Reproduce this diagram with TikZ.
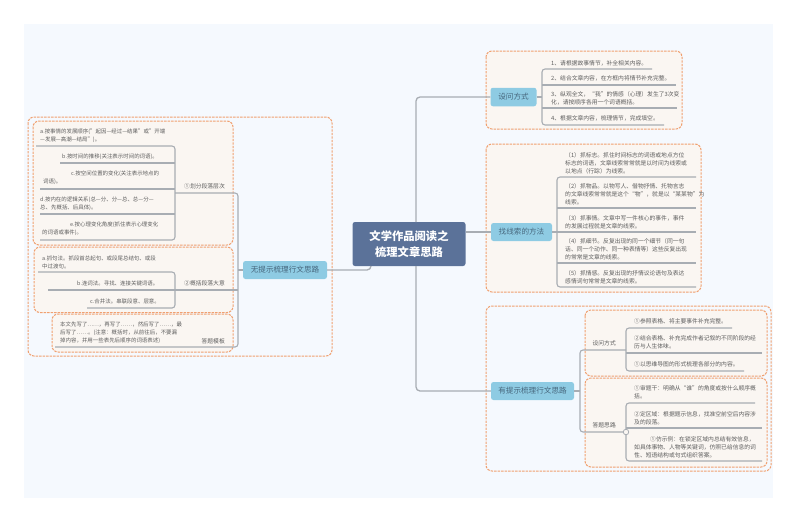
\documentclass[tikz,border=0pt]{standalone}
\usepackage{fontspec}
\setmainfont{Noto Sans CJK SC}
\definecolor{panel}{HTML}{F5F9FE}
\definecolor{dashc}{HTML}{F0A070}
\definecolor{cream}{HTML}{FAF6F2}
\definecolor{linec}{HTML}{A8ADB3}
\definecolor{txtc}{HTML}{5E5E5E}
\definecolor{rootc}{HTML}{5B7299}
\definecolor{topicc}{HTML}{8ECBE3}
\definecolor{topict}{HTML}{47677D}
\tikzset{
  grpouter/.style={draw=dashc,line width=1pt,dash pattern=on 2.4pt off 1.1pt,rounded corners=6pt,fill=panel},
  grpinner/.style={draw=dashc,line width=1pt,dash pattern=on 2.4pt off 1.1pt,rounded corners=6pt,fill=cream},
  conn/.style={draw=linec,line width=1.1pt,rounded corners=3pt},
  mainconn/.style={draw=linec,line width=1.3pt,rounded corners=4pt},
  leaf/.style={inner sep=0pt,anchor=west,align=left,text=txtc,font=\fontsize{5.8}{7.9}\selectfont},
  leafL/.style={leaf,font=\fontsize{5.45}{7.9}\selectfont},
  side/.style={inner sep=0pt,anchor=east,text=txtc,font=\fontsize{5.8}{7.9}\selectfont},
  topic/.style={fill=topicc,rounded corners=2.5pt,inner sep=0pt,text=topict,font=\fontsize{7.6}{9}\selectfont},
  rootbox/.style={fill=rootc,rounded corners=2.5pt,inner sep=0pt,text=white,align=center,font=\bfseries\fontsize{11.3}{15.5}\selectfont},
}
\begin{document}
\begin{tikzpicture}[x=1pt,y=-1pt]
\useasboundingbox (0,0) rectangle (800,523);
\fill[panel] (24,24) rectangle (773,498);
% groups
\draw[grpouter] (28,117) rectangle (332,356);
\draw[grpinner] (33,121) rectangle (233,245);
\draw[grpinner] (34,247) rectangle (233,312.5);
\draw[grpinner] (52,314) rectangle (233,352);
\draw[grpinner] (486,51) rectangle (682,129);
\draw[grpinner] (486,144) rectangle (701,292);
\draw[grpouter] (486,306) rectangle (771,471);
\draw[grpinner] (585,310) rectangle (767,376);
\draw[grpinner] (585,378) rectangle (767,467);
% main nodes
\node[rootbox,minimum width=113pt,minimum height=44pt] (root) at (409,244) {文学作品阅读之\\梳理文章思路};
\node[topic,minimum width=84pt,minimum height=18pt] (tL) at (285,270) {无提示梳理行文思路};
\node[topic,minimum width=46pt,minimum height=18.5pt] (tA) at (513.5,97) {设问方式};
\node[topic,minimum width=61pt,minimum height=18pt] (tB) at (521.5,232) {找线索的方法};
\node[topic,minimum width=83pt,minimum height=18pt] (tC) at (532.5,391) {有提示梳理行文思路};
% main connectors
\coordinate (rootT) at (416,222);
\coordinate (rootB) at (416,266);
\coordinate (rootBL) at (371,266);
\draw[mainconn] (rootT) -- (416,97) -- (tA.west);
\draw[mainconn] (root.east |- tB.west) -- (tB.west);
\draw[mainconn] (rootB) -- (416,391) -- (tC.west);
\draw[mainconn] (rootBL) -- (371,270) -- (tL.east);
% left tree
\coordinate (L1a) at (175,193); \coordinate (L1b) at (238,193);
\coordinate (L2a) at (48,290);  \coordinate (L2b) at (238,290);
\coordinate (L3a) at (55,347);  \coordinate (L3b) at (238,347);
\draw[conn] (tL.west) -- (238,270);
\draw[conn] (L1a) -- (L1b) -- (L3b) -- (L3a);
\draw[conn] (L2a) -- (L2b);
\node[side] (s1) at (225,186) {①划分段落层次};
\node[side] (s2) at (225,283) {②概括段落大意};
\node[side] (s3) at (225,341) {答题模板};
% left leaves 1
\coordinate (a1) at (36,146); \coordinate (a2) at (60,163); \coordinate (a3) at (40,189); \coordinate (a4) at (40,214); \coordinate (a5) at (40,240);
\draw[conn] (a1) -- (175,146) -- (175,240) -- (a5);
\draw[conn] (a2) -- (175,163);
\draw[conn] (a3) -- (175,189);
\draw[conn] (a4) -- (175,214);
\node[leafL] (n1) at (40,135.5) {a.按事情的发展顺序("起因—经过—结果"或"开端\\—发展—高潮—结局")。};
\node[leafL] (n2) at (62,157) {b.按时间的推移(关注表示时间的词语)。};
\node[leafL] (n3) at (43,178) {\hspace*{28pt}c.按空间位置的变化(关注表示地点的\\词语)。};
\node[leafL] (n4) at (40,203.5) {d.按内在的逻辑关系(总—分、分—总、总—分—\\总、先概括、后具体)。};
\node[leafL] (n5) at (42,229) {\hspace*{28pt}e.按心理变化角度(抓住表示心理变化\\的词语或事件)。};
% left leaves 2
\coordinate (b1) at (38,272); \coordinate (b3) at (87,308);
\draw[conn] (b1) -- (175,272) -- (175,308) -- (b3);
\node[leafL] (n6) at (42,262.5) {a.抓句法。抓段首总起句、或段尾总结句、或段\\中过渡句。};
\node[leafL] (n7) at (77,283) {b.连词法。寻找、连接关键词语。};
\node[leafL] (n8) at (90,301) {c.合并法。串联段意、层意。};
\node[leafL] (n9) at (60,333) {本文先写了……，再写了……，然后写了……，最\\后写了……。(注意：概括时，从前往后，不要漏\\掉内容，并用一些表先后顺序的词语表述)};
% right A
\coordinate (c1) at (652,69); \coordinate (c2) at (676,85); \coordinate (c3) at (677,108); \coordinate (c4) at (664,125);
\draw[conn] (tA.east) -- (542,97);
\draw[conn] (c1) -- (542,69) -- (542,125) -- (c4);
\draw[conn] (542,85) -- (c2);
\draw[conn] (542,108) -- (c3);
\node[leaf] (m1) at (551,63) {1、请根据故事情节，补全相关内容。};
\node[leaf] (m2) at (551,78) {2、结合文章内容，在方框内将情节补充完整。};
\node[leaf] (m3) at (551,98) {3、纵观全文，“我”的情感（心理）发生了3次变\\化，请按顺序各用一个词语概括。};
\node[leaf] (m4) at (551,118) {4、根据文章内容，梳理情节，完成填空。};
% right B
\coordinate (d1) at (696,177); \coordinate (d2) at (696,208); \coordinate (d3) at (696,232); \coordinate (d4) at (696,263); \coordinate (d5) at (696,287);
\draw[conn] (d1) -- (557,177) -- (557,287) -- (d5);
\draw[conn] (557,208) -- (d2);
\draw[conn] (tB.east) -- (d3);
\draw[conn] (557,263) -- (d4);
\node[leaf] (p1) at (565,163) {（1）抓标志。抓住时间标志的词语或地点方位\\标志的词语，文章线索常常就是以时间为线索或\\以地点（行踪）为线索。};
\node[leaf] (p2) at (565,194) {（2）抓物品。以物写人、借物抒情、托物言志\\的文章线索常常就是这个“物”，就是以“某某物”为\\线索。};
\node[leaf] (p3) at (565,222) {（3）抓事情。文章中写一件核心的事件，事件\\的发展过程就是文章的线索。};
\node[leaf] (p4) at (565,249) {（4）抓细节。反复出现的同一个细节（同一句\\话、同一个动作、同一种表情等）这些反复出现\\的常常是文章的线索。};
\node[leaf] (p5) at (565,277) {（5）抓情感。反复出现的抒情议论语句及表达\\感情词句常常是文章的线索。};
% right C
\coordinate (e1) at (626,350); \coordinate (e2) at (626,432);
\draw[conn] (tC.east) -- (580,391);
\draw[conn] (e1) -- (580,350) -- (580,432) -- (e2);
\node[side] (s4) at (616,343) {设问方式};
\node[side] (s5) at (616,425) {答题思路};
\coordinate (f1) at (732,328); \coordinate (f2) at (762,353); \coordinate (f3) at (744,371);
\draw[conn] (f1) -- (626,328) -- (626,371) -- (f3);
\draw[conn] (626,353) -- (f2);
\node[leaf] (q1) at (634,321) {①参照表格、将主要事件补充完整。};
\node[leaf] (q2) at (634,342.5) {②结合表格、补充完成作者记叙的不同阶段的经\\历与人生体味。};
\node[leaf] (q3) at (634,364) {①以思维导图的形式梳理各部分的内容。};
\coordinate (g1) at (755,403); \coordinate (g2) at (762,428); \coordinate (g3) at (762,461);
\draw[conn] (g1) -- (626,403) -- (626,461) -- (g3);
\draw[conn] (626,428) -- (g2);
\node[circle,draw=linec,fill=cream,line width=0.8pt,minimum size=5.5pt,inner sep=0pt] (dot) at (e2) {};
\node[leaf] (r1) at (634,392.5) {①审题干：明确从“谁”的角度或按什么顺序概\\括。};
\node[leaf] (r2) at (634,418) {②定区域：根据题示信息，找准空前空后内容涉\\及的段落。};
\node[leaf] (r3) at (634,447) {\hspace*{16pt}①仿示例：在锁定区域内总结有效信息，\\如具体事物、人物等关键词，仿照已给信息的词\\性、短语结构或句式组织答案。};
\end{tikzpicture}
\end{document}
